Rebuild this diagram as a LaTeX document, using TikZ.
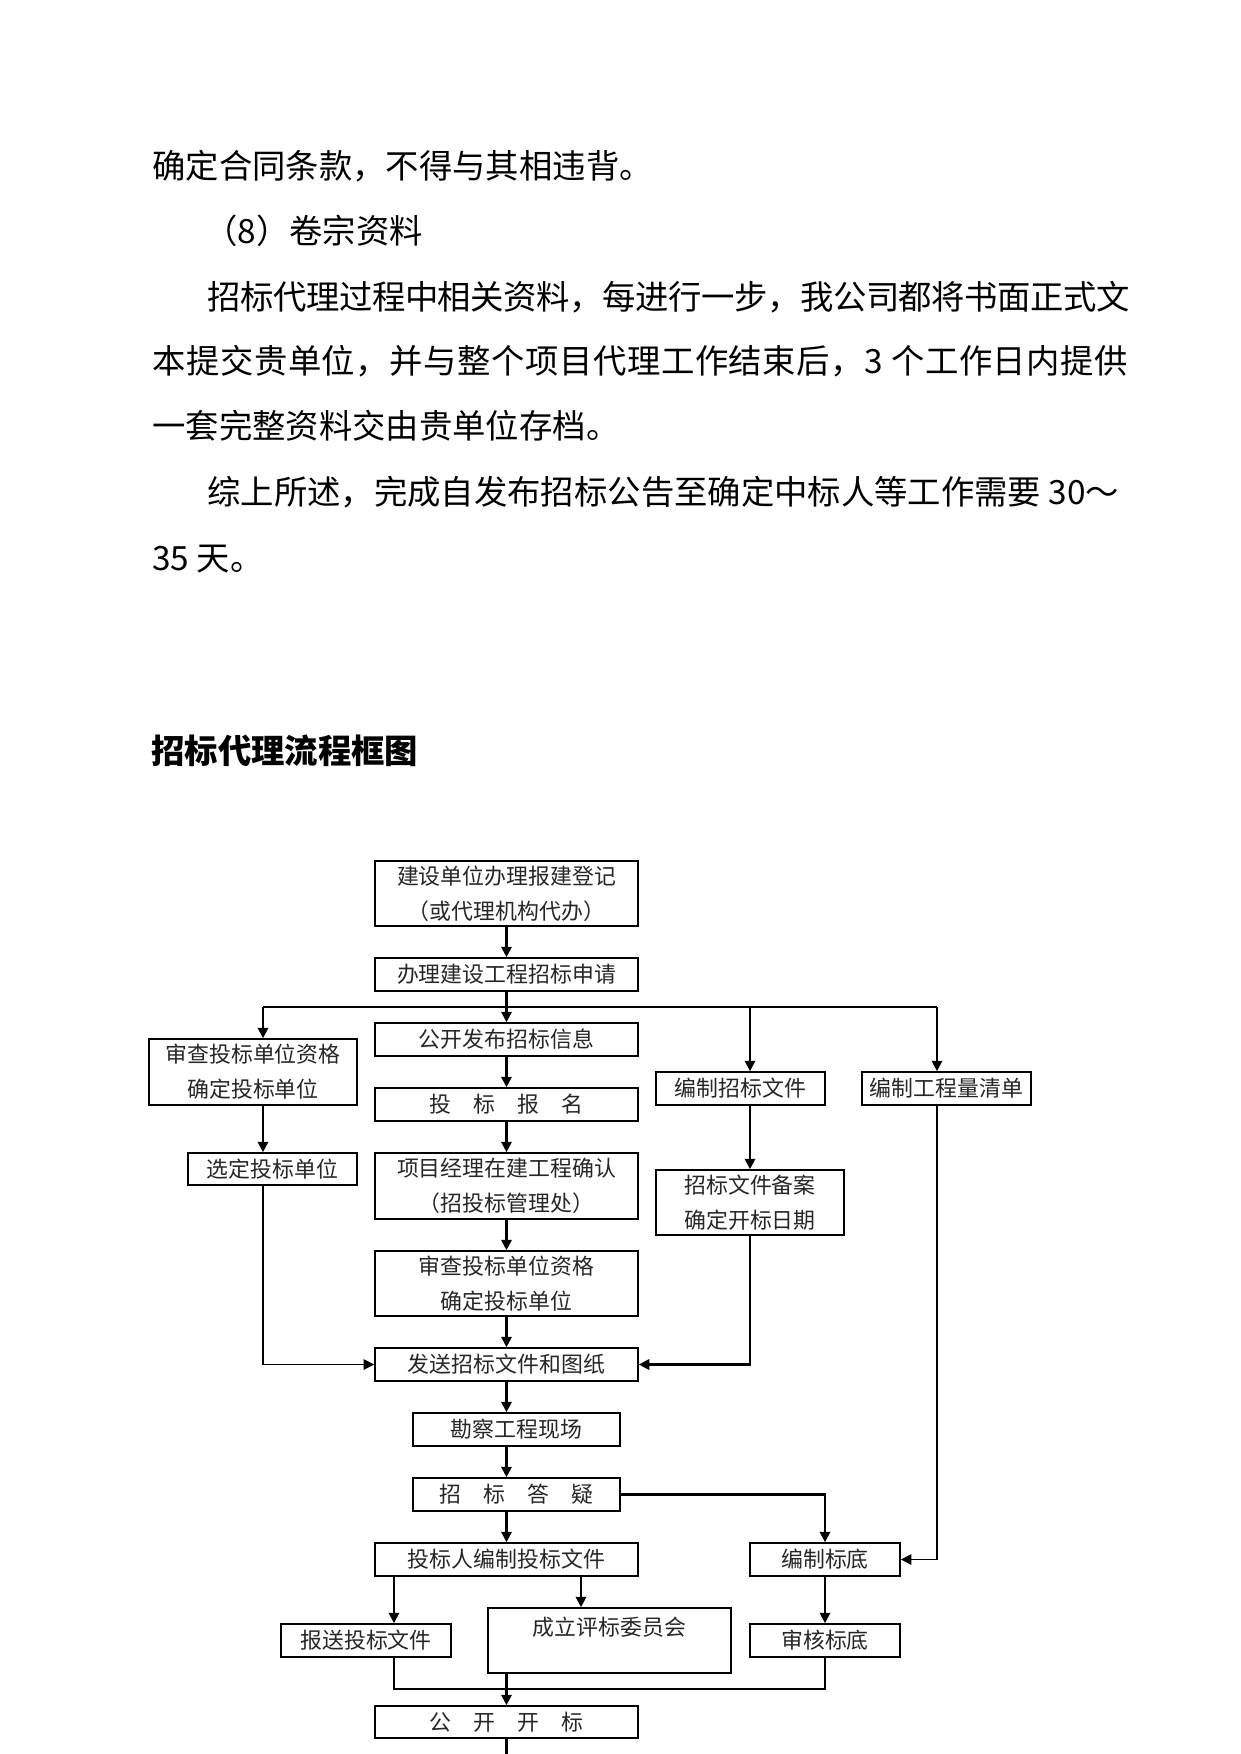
\documentclass[tikz,border=0pt]{standalone}
\usepackage{fontspec}
\setmainfont{Noto Sans CJK SC}
\usetikzlibrary{arrows.meta}
\def\px{0.47968pt}
\newcommand\flowfont{\fontsize{10.5pt}{16.8pt}\selectfont}
\newcommand\parafont{\fontsize{16pt}{20pt}\selectfont}
\newcommand\jg{\hskip 0pt plus 1fil minus 2pt\relax}
\newcommand\mkbox[6]{\node[box, minimum width={(#4-#2)*\px}, minimum height={(#5-#3)*\px}] (#1) at ({(#2+#4)/2},{(#3+#5)/2}) {#6};}
\begin{document}
\begin{tikzpicture}[x=0.47968pt,y=-0.47968pt,
  box/.style={draw, line width=0.8pt, inner sep=0pt, align=center, font=\flowfont, text=black!85},
  boxtext/.style={inner sep=0pt, font=\flowfont, text=black!85},
  arr/.style={line width=1pt, -{Triangle[length=5pt,width=5pt]}},
  ln/.style={line width=1pt},
  thinln/.style={line width=0.5pt},
  thinarr/.style={line width=0.6pt, -{Triangle[length=5pt,width=5pt]}},
  body/.style={anchor=base west, inner sep=0pt, font=\parafont},
  ttl/.style={anchor=base west, inner sep=0pt, font=\fontsize{16pt}{20pt}\selectfont\bfseries}]
\useasboundingbox (0,0) rectangle (1241,1754);
\fill[white] (0,0) rectangle (1241,1754);

% paragraph text
\node[body] (p1) at (152,178) {确定合同条款，不得与其相违背。};
\node[body] (p2) at (204,243) {（8）卷宗资料};
\node[body] (p3) at (207,309) {\makebox[442.5pt][s]{招\jg 标\jg 代\jg 理\jg 过\jg 程\jg 中\jg 相\jg 关\jg 资\jg 料\jg ，\jg 每\jg 进\jg 行\jg 一\jg 步\jg ，\jg 我\jg 公\jg 司\jg 都\jg 将\jg 书\jg 面\jg 正\jg 式\jg 文}};
\node[body] (p4) at (152,373) {\makebox[468pt][s]{本\jg 提\jg 交\jg 贵\jg 单\jg 位\jg ，\jg 并\jg 与\jg 整\jg 个\jg 项\jg 目\jg 代\jg 理\jg 工\jg 作\jg 结\jg 束\jg 后\jg ，\jg 3\jg\ 个\jg 工\jg 作\jg 日\jg 内\jg 提\jg 供}};
\node[body] (p5) at (152,438) {一套完整资料交由贵单位存档。};
\node[body] (p6) at (207,504) {综上所述，完成自发布招标公告至确定中标人等工作需要 30～};
\node[body] (p7) at (152,570) {35 天。};
\node[ttl] (title) at (151,763) {招标代理流程框图};

% boxes
\mkbox{B1}{375}{861}{638}{926}{建设单位办理报建登记\\（或代理机构代办）}
\mkbox{B2}{375}{958}{638}{991}{办理建设工程招标申请}
\mkbox{L1}{149}{1039}{357}{1105}{审查投标单位资格\\确定投标单位}
\mkbox{L2}{188}{1153}{357}{1185}{选定投标单位}
\mkbox{C3}{375}{1023}{638}{1056}{公开发布招标信息}
\mkbox{C4}{375}{1088}{638}{1121}{投　标　报　名}
\mkbox{C5}{375}{1153}{638}{1219}{项目经理在建工程确认\\（招投标管理处）}
\mkbox{C6}{375}{1251}{638}{1316}{审查投标单位资格\\确定投标单位}
\mkbox{C7}{375}{1348}{638}{1381}{发送招标文件和图纸}
\mkbox{C8}{413}{1413}{620}{1446}{勘察工程现场}
\mkbox{C9}{413}{1478}{620}{1511}{招　标　答　疑}
\mkbox{C10}{375}{1543}{638}{1576}{投标人编制投标文件}
\mkbox{C11}{281}{1624}{451}{1657}{报送投标文件}
\mkbox{C12}{488}{1608}{731}{1673}{}
\node[boxtext] (C12t) at (609.5,1627) {成立评标委员会};
\mkbox{C13}{375}{1706}{638}{1738}{公　开　开　标}
\mkbox{R1}{656}{1072}{825}{1105}{编制招标文件}
\mkbox{R2}{656}{1170}{844}{1235}{招标文件备案\\确定开标日期}
\mkbox{R3}{862}{1072}{1031}{1105}{编制工程量清单}
\mkbox{R4}{750}{1543}{900}{1576}{编制标底}
\mkbox{R5}{750}{1624}{900}{1657}{审核标底}

% helper coordinates
\coordinate (cx) at (506.5,1000);
\coordinate (jL) at (263,1007);
\coordinate (jC) at (506.5,1007);
\coordinate (jR1) at (750,1007);
\coordinate (jR2) at (937,1007);
\coordinate (x11) at (394,1600);
\coordinate (x12) at (581,1600);
\coordinate (jb) at (506.5,1689);
\coordinate (pend) at (506.5,1754);

% connectors
\draw[arr] (cx |- B1.south) -- (cx |- B2.north);
\draw[thinln] (jL) -- (jR2);
\draw[arr] (cx |- B2.south) -- (cx |- C3.north);
\draw[arr] (jL) -- (jL |- L1.north);
\draw[arr] (jR1) -- (jR1 |- R1.north);
\draw[arr] (jR2) -- (jR2 |- R3.north);
\draw[arr] (jL |- L1.south) -- (jL |- L2.north);
\draw[arr] (cx |- C3.south) -- (cx |- C4.north);
\draw[arr] (cx |- C4.south) -- (cx |- C5.north);
\draw[arr] (cx |- C5.south) -- (cx |- C6.north);
\draw[arr] (cx |- C6.south) -- (cx |- C7.north);
\draw[thinarr] (jL |- L2.south) |- (C7.west);
\draw[arr] (jR1 |- R1.south) -- (jR1 |- R2.north);
\draw[arr] (jR1 |- R2.south) |- (C7.east);
\draw[arr] (cx |- C7.south) -- (cx |- C8.north);
\draw[arr] (cx |- C8.south) -- (cx |- C9.north);
\draw[arr] (cx |- C9.south) -- (cx |- C10.north);
\draw[arr] (C9.east) -| (R4.north);
\draw[thinarr] (jR2 |- R3.south) |- (R4.east);
\draw[arr] (R4.south) -- (R5.north);
\draw[arr] (x11 |- C10.south) -- (x11 |- C11.north);
\draw[arr] (x12 |- C10.south) -- (x12 |- C12.north);
\draw[ln] (x11 |- C11.south) |- (jb) -| (R5.south);
\draw[arr] (cx |- C12.south) -- (cx |- C13.north);
\draw[ln] (cx |- C13.south) -- (pend);
\end{tikzpicture}
\end{document}
